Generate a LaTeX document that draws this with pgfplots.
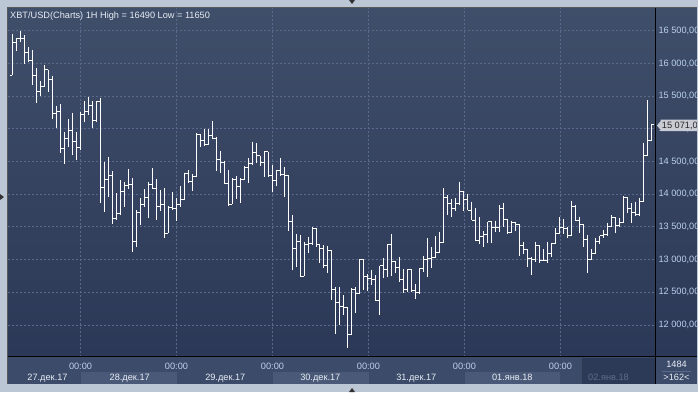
\documentclass[border=0pt]{standalone}
\usepackage{fontspec}
\setmainfont{Liberation Sans}
\usepackage{pgfplots}
\pgfplotsset{compat=1.18}
\usepackage{pgfplotstable}
\definecolor{framec}{HTML}{BCC7D6}
\definecolor{plottop}{HTML}{3F4E69}
\definecolor{plotbot}{HTML}{2B3857}
\definecolor{gridc}{HTML}{5A6A8C}
\definecolor{pricetxt}{HTML}{B9D0EE}
\definecolor{timepanel}{HTML}{3C4B69}
\definecolor{dateblock}{HTML}{4A5977}
\definecolor{darkbox}{HTML}{2D3A57}
\definecolor{dimtxt}{HTML}{5C6C8A}
\definecolor{tagc}{HTML}{C9CDD3}
\definecolor{titletxt}{HTML}{E8EDF5}
\pgfplotstableread{
i O H L C
0 15822 16444 15822 16322
1 16322 16393 16189 16373
2 16373 16490 16332 16383
3 16383 16434 15985 16169
4 16169 16250 16026 16051
5 16051 16199 15669 15822
6 15822 15934 15399 15577
7 15577 15730 15506 15644
8 15644 15975 15644 15899
9 15899 15899 15567 15761
10 15761 15812 15144 15236
11 15236 15353 15006 15261
12 15261 15373 14623 14700
13 14700 14955 14455 14853
14 14853 15149 14725 14975
15 14975 15236 14598 14812
16 14812 14955 14522 14710
17 14710 15251 14674 15220
18 15220 15424 15108 15271
19 15271 15490 15210 15363
20 15363 15424 15006 15134
21 15134 15424 15108 15414
22 15414 15475 13859 14098
23 14098 14496 13721 14231
24 14231 14572 13961 14282
25 14282 14353 13537 13629
26 13629 14012 13604 13706
27 13706 14215 13680 14047
28 14047 14190 13808 14139
29 14139 14384 14078 14149
30 14149 14241 13119 13282
31 13282 13756 13196 13721
32 13721 13935 13527 13843
33 13843 14078 13808 13945
34 13945 14180 13639 14149
35 14149 14404 14088 14088
36 14088 14231 13604 13808
37 13808 14063 13741 13843
38 13843 14088 13323 13400
39 13400 13819 13400 13799
40 13799 14033 13758 13778
41 13778 13936 13595 13845
42 13845 14125 13799 13921
43 13921 14329 13911 14319
44 14319 14370 14166 14196
45 14196 14308 14054 14278
46 14278 14930 14268 14910
47 14910 14915 14726 14818
48 14818 14991 14737 14762
49 14762 14991 14752 14905
50 14905 15119 14839 14854
51 14854 14869 14359 14523
52 14523 14660 14329 14492
53 14492 14512 14166 14166
54 14166 14370 13819 13845
55 13845 14242 13845 14227
56 14227 14278 13931 14125
57 14125 14242 13860 14217
58 14217 14431 14217 14410
59 14410 14548 14166 14472
60 14472 14803 14446 14635
61 14635 14777 14482 14584
62 14584 14584 14431 14482
63 14482 14650 14257 14650
64 14650 14650 14257 14288
65 14288 14441 14038 14207
66 14207 14370 14125 14359
67 14359 14548 14278 14308
68 14308 14410 13952 14288
69 14288 14288 13442 13575
70 13575 13682 12841 13172
71 13172 13391 12881 13274
72 13274 13376 12749 12749
73 12749 13274 12749 13238
74 13238 13350 13106 13248
75 13248 13493 13223 13478
76 13478 13478 13198 13238
77 13238 13238 12953 13172
78 13172 13223 12866 12902
79 12902 13208 12800 13136
80 13136 13147 12382 12535
81 12535 12576 11862 12341
82 12341 12586 11995 12280
83 12280 12459 12153 12270
84 12270 12280 11650 11862
85 11862 12561 11862 12545
86 12545 12576 12188 12484
87 12484 13004 12484 13004
88 13004 13004 12535 12739
89 12739 12780 12525 12714
90 12714 12841 12611 12688
91 12688 12764 12372 12372
92 12372 12902 12153 12902
93 12902 13019 12714 12841
94 12841 13238 12729 13238
95 13238 13391 12749 12968
96 12968 12984 12800 12882
97 12882 13034 12663 12688
98 12688 12851 12494 12545
99 12545 12851 12509 12851
100 12851 12851 12509 12525
101 12525 12627 12392 12494
102 12494 12866 12474 12866
103 12866 13055 12816 12994
104 12994 13325 12739 13019
105 13019 13187 12866 13034
106 13034 13361 13034 13106
107 13106 13427 13106 13259
108 13259 14090 13249 13952
109 13952 13988 13682 13860
110 13860 13922 13657 13784
111 13784 13937 13748 13860
112 13860 14192 13835 14039
113 14039 14054 13748 13922
114 13922 14003 13758 13758
115 13758 13886 13605 13605
116 13605 13784 13289 13289
117 13289 13646 13238 13351
118 13351 13442 13198 13391
119 13391 13580 13259 13580
120 13580 13595 13259 13493
121 13493 13595 13427 13493
122 13493 13835 13427 13784
123 13784 13870 13493 13616
124 13616 13616 13391 13412
125 13412 13595 13412 13565
126 13565 13580 13442 13544
127 13544 13544 13055 13223
128 13223 13274 13086 13147
129 13147 13157 12892 13019
130 13019 13040 12764 13000
131 13000 13274 12968 13208
132 13208 13223 12953 12984
133 12984 13157 12984 12984
134 12984 13274 12943 13096
135 13096 13249 13045 13249
136 13249 13478 13249 13402
137 13402 13646 13402 13493
138 13493 13616 13391 13478
139 13478 13504 13325 13361
140 13361 13901 13361 13819
141 13819 13835 13595 13595
142 13595 13656 13402 13544
143 13544 13544 13198 13310
144 13310 13376 12800 12994
145 12994 13157 12994 13086
146 13086 13325 13086 13274
147 13274 13361 13238 13361
148 13361 13452 13325 13391
149 13391 13565 13361 13504
150 13504 13682 13504 13646
151 13646 13646 13412 13514
152 13514 13631 13504 13565
153 13565 13972 13565 13952
154 13952 13962 13718 13784
155 13784 13860 13565 13718
156 13718 13886 13667 13682
157 13682 13937 13667 13886
158 13886 14788 13886 14599
159 14599 15440 14599 14818
160 14818 15073 14818 15071
}\ohlc
\begin{document}
\begin{tikzpicture}[x=1pt,y=1pt,font=\fontsize{9.2}{11}\selectfont]
\useasboundingbox (0,0) rectangle (698,392);
\fill[framec] (0,0) rectangle (698,392);
\shade[top color=plottop,bottom color=plotbot] (8,35.5) rectangle (655,384);
\shade[top color=plottop,bottom color=plotbot] (655,35.5) rectangle (697,384);
\fill[timepanel] (8,8.5) rectangle (697,35.5);
\fill[dateblock] (80.5,8.5) rectangle (176.5,20.5);
\fill[dateblock] (272.5,8.5) rectangle (368.5,20.5);
\fill[dateblock] (464.5,8.5) rectangle (559.5,20.5);
\fill[darkbox] (582,8.5) rectangle (655,34);
\draw[gridc!70!black] (581.5,14) -- (581.5,34);
\begin{axis}[
  at={(8pt,35.5pt)}, anchor=south west, scale only axis,
  width=647pt, height=348.5pt,
  xmin=-1.08, xmax=160.84, ymin=11518, ymax=16847,
  axis line style={draw=none},
  xtick={17.07,41.09,65.11,89.13,113.15,137.17},
  xticklabels={00:00,00:00,00:00,00:00,00:00,00:00},
  ytick={12000,12500,13000,13500,14000,14500,15000,15500,16000,16500},
  yticklabels={{12 000,00},{12 500,00},{13 000,00},{13 500,00},{14 000,00},{14 500,00},{15 000,00},{15 500,00},{16 000,00},{16 500,00}},
  yticklabel pos=right,
  major tick length=0pt,
  grid=major,
  major grid style={gridc, dash pattern=on 2pt off 2pt, line width=0.8pt},
  xticklabel style={anchor=base, yshift=-12.5pt, text=pricetxt, font=\fontsize{9.2}{11}\selectfont},
  yticklabel style={text=pricetxt, anchor=west, font=\fontsize{9.2}{11}\selectfont},
]
\addplot[draw=none, mark=none, forget plot,
  error bars/.cd, y dir=minus, y explicit,
  error bar style={white, line width=1pt}, error mark=none]
  table[x=i, y=H, y error expr={\thisrow{H}-\thisrow{L}}] {\ohlc};
\addplot[draw=none, mark=none, forget plot,
  error bars/.cd, x dir=minus, x fixed=0.5,
  error bar style={white, line width=1pt}, error mark=none]
  table[x=i, y=O] {\ohlc};
\addplot[draw=none, mark=none, forget plot,
  error bars/.cd, x dir=plus, x fixed=0.5,
  error bar style={white, line width=1pt}, error mark=none]
  table[x=i, y=C] {\ohlc};
\end{axis}
% borders
\draw[black, line width=1pt] (655,8.5) -- (655,384);
\draw[black, line width=1pt] (8,35.5) -- (697,35.5);
\draw[gray!70!black] (7.5,8) -- (7.5,384.5) -- (697,384.5);
% title
\node[anchor=base west, inner sep=0, text=titletxt] at (10,373.7) {XBT/USD(Charts) 1H High = 16490 Low = 11650};
% date labels
\foreach \xx/\lab in {47.5/27.дек.17, 129.7/28.дек.17, 225.3/29.дек.17, 320.3/30.дек.17, 416.3/31.дек.17, 512.3/01.янв.18}
  \node[anchor=base, inner sep=0, text=titletxt] at (\xx,12) {\lab};
\node[anchor=base, inner sep=0, text=dimtxt] at (608.5,12) {02.янв.18};
% bottom right box
\node[anchor=base, inner sep=0, text=titletxt] at (676.5,24.7) {1484};
\draw[gridc] (662,21) -- (691,21);
\node[anchor=base, inner sep=0, text=titletxt] at (676.5,11.5) {>162<};
% price tag
\fill[tagc] (657,266.5) -- (660.7,271) -- (660.7,272.5) -- (700,272.5) -- (700,261) -- (660.7,261) -- (660.7,262) -- cycle;
\node[anchor=west, inner sep=0, text=black!85] at (661.7,266.5) {15 071,0};
% frame strips on top (clip overflow)
\fill[framec] (697,0) rectangle (698,392);
\fill[framec] (0,0) rectangle (698,8);
% small notch triangles
\fill[black!80] (349,392) -- (355,392) -- (352,388) -- cycle;
\fill[black!80] (0,198) -- (0,192) -- (4,195) -- cycle;
\fill[black!80] (349,0) -- (355,0) -- (352,4) -- cycle;
\end{tikzpicture}
\end{document}
